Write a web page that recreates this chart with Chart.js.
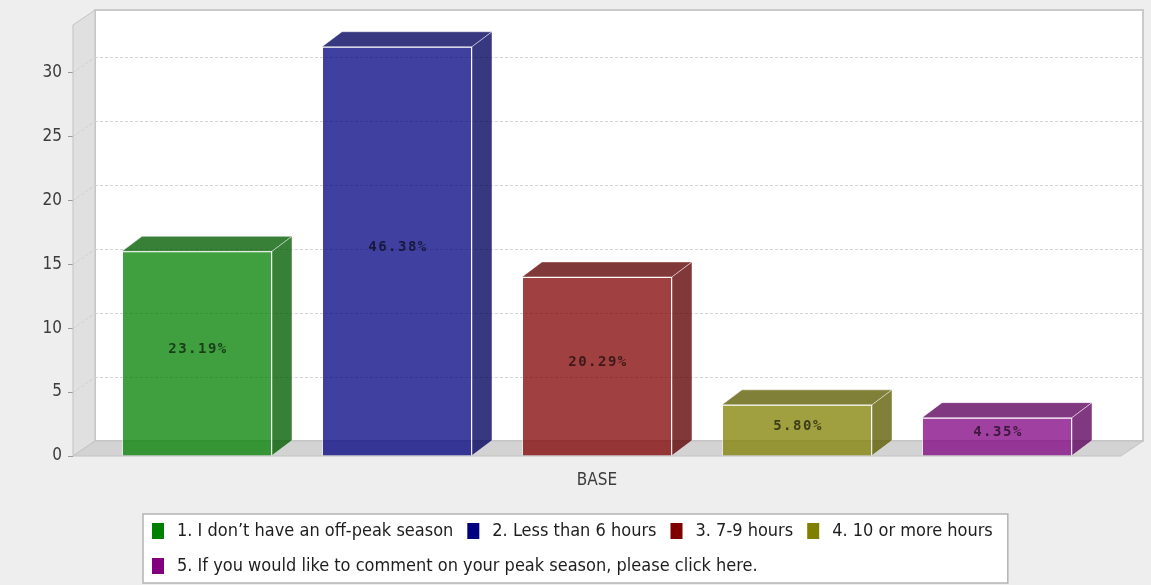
<!DOCTYPE html>
<html>
<head>
<meta charset="utf-8">
<title>Off-peak season hours</title>
<script src="https://cdn.jsdelivr.net/npm/chart.js@4.4.1/dist/chart.umd.min.js"></script>
<style>
  html, body { margin: 0; padding: 0; background: #eeeeee; }
  #wrap { width: 1151px; height: 585px; }
  canvas { display: block; }
</style>
</head>
<body>
<div id="wrap"><canvas id="chart" width="1151" height="585"></canvas></div>
<script>
// ---- data ----
const categories = ['BASE'];
const seriesLabels = [
  '1. I don\u2019t have an off-peak season',
  '2. Less than 6 hours',
  '3. 7-9 hours',
  '4. 10 or more hours',
  '5. If you would like to comment on your peak season, please click here.'
];
const seriesCounts = [16, 32, 14, 4, 3];
const seriesColors = ['#008000', '#000080', '#800000', '#808000', '#800080'];
const yTickValues = [0, 5, 10, 15, 20, 25, 30];
const yAxisMax = 33.7;

// ---- helpers ----
const total = seriesCounts.reduce((a, b) => a + b, 0);
function shade(hex, alpha, k) {
  const n = parseInt(hex.slice(1), 16);
  const r = Math.round(((n >> 16) & 255) * k);
  const g = Math.round(((n >> 8) & 255) * k);
  const b = Math.round((n & 255) * k);
  return `rgba(${r},${g},${b},${alpha})`;
}
const SANS = '"DejaVu Sans Condensed", "DejaVu Sans", sans-serif';
const WALL_DX = 22, WALL_DY = 15;   // depth of the walls/floor
const BAR_DX = 20, BAR_DY = 15;     // depth of each bar
const EDGE = 'rgba(255,255,255,0.45)';

// walls, floor and grid drawn behind the bars
const depthPlugin = {
  id: 'depthBox',
  beforeDatasetsDraw(chart) {
    const { ctx, chartArea: a, scales: { y } } = chart;
    const L = a.left, R = a.right, T = a.top, B = a.bottom;
    ctx.save();
    // back wall
    ctx.fillStyle = '#ffffff';
    ctx.fillRect(L + WALL_DX, T - WALL_DY, R - L, B - T);
    ctx.strokeStyle = '#cacaca';
    ctx.lineWidth = 2;
    ctx.strokeRect(L + WALL_DX, T - WALL_DY, R - L, B - T);
    // left side wall
    ctx.beginPath();
    ctx.moveTo(L, T); ctx.lineTo(L + WALL_DX, T - WALL_DY);
    ctx.lineTo(L + WALL_DX, B - WALL_DY); ctx.lineTo(L, B);
    ctx.closePath();
    ctx.fillStyle = '#e0e0e0';
    ctx.fill();
    ctx.strokeStyle = '#c2c2c2';
    ctx.lineWidth = 1;
    ctx.stroke();
    // floor
    ctx.beginPath();
    ctx.moveTo(L, B); ctx.lineTo(L + WALL_DX, B - WALL_DY);
    ctx.lineTo(R + WALL_DX, B - WALL_DY); ctx.lineTo(R, B);
    ctx.closePath();
    ctx.fillStyle = '#d3d3d3';
    ctx.fill();
    ctx.strokeStyle = '#c2c2c2';
    ctx.stroke();
    // dashed grid on the back wall, with its trace across the side wall
    ctx.setLineDash([3, 2]);
    ctx.lineWidth = 1;
    y.ticks.forEach(t => {
      if (t.value === 0) return;
      const py = Math.round(y.getPixelForValue(t.value)) + 0.5;
      ctx.strokeStyle = '#d2d2d2';
      ctx.beginPath();
      ctx.moveTo(L + WALL_DX, py - WALL_DY);
      ctx.lineTo(R + WALL_DX, py - WALL_DY);
      ctx.stroke();
      ctx.strokeStyle = '#d0d0d0';
      ctx.beginPath();
      ctx.moveTo(L, py);
      ctx.lineTo(L + WALL_DX, py - WALL_DY);
      ctx.stroke();
    });
    ctx.restore();
  },
  afterDatasetsDraw(chart) {
    const { ctx } = chart;
    ctx.save();
    chart.data.datasets.forEach((ds, i) => {
      const meta = chart.getDatasetMeta(i);
      meta.data.forEach((bar, j) => {
        const p = bar.getProps(['x', 'y', 'base', 'width'], true);
        const x1 = p.x - p.width / 2, x2 = p.x + p.width / 2;
        const top = p.y, base = p.base;
        const dark = shade(seriesColors[i], 0.78, 0.72);
        // top face
        ctx.beginPath();
        ctx.moveTo(x1, top); ctx.lineTo(x1 + BAR_DX, top - BAR_DY);
        ctx.lineTo(x2 + BAR_DX, top - BAR_DY); ctx.lineTo(x2, top);
        ctx.closePath();
        ctx.fillStyle = dark;
        ctx.fill();
        ctx.strokeStyle = EDGE;
        ctx.lineWidth = 1;
        ctx.stroke();
        // side face
        ctx.beginPath();
        ctx.moveTo(x2, top); ctx.lineTo(x2 + BAR_DX, top - BAR_DY);
        ctx.lineTo(x2 + BAR_DX, base - BAR_DY); ctx.lineTo(x2, base);
        ctx.closePath();
        ctx.fillStyle = dark;
        ctx.fill();
        ctx.stroke();
        // percentage label on the front face
        const v = ds.data[j];
        const label = (v / total * 100).toFixed(2) + '%';
        ctx.font = 'bold 14px "DejaVu Sans Mono", "Liberation Mono", monospace';
        ctx.letterSpacing = '1.5px';
        ctx.textAlign = 'center';
        ctx.textBaseline = 'middle';
        ctx.fillStyle = 'rgba(0,0,0,0.62)';
        ctx.fillText(label, p.x + 1, (top + base) / 2 - 4);
      });
    });
    ctx.restore();
  },
  afterDraw(chart) {
    // boxed legend below the axis
    const { ctx } = chart;
    const boxL = 143, boxT = 514, startX = 152, rowY = [531, 566], wrapAt = 1060;
    ctx.save();
    ctx.font = '18px ' + SANS;
    ctx.letterSpacing = '0px';
    const items = [];
    let x = startX, row = 0, maxEnd = 0;
    chart.data.datasets.forEach((ds, i) => {
      const w = ctx.measureText(ds.label).width;
      if (x + 25 + w > wrapAt && x > startX) { row++; x = startX; }
      items.push({ x, row, label: ds.label, color: seriesColors[i] });
      maxEnd = Math.max(maxEnd, x + 25 + w);
      x += 25 + w + 14;
    });
    const boxR = maxEnd + 15, boxB = 583;
    ctx.fillStyle = '#ffffff';
    ctx.fillRect(boxL, boxT, boxR - boxL, boxB - boxT);
    ctx.strokeStyle = '#b4b4b4';
    ctx.lineWidth = 1.5;
    ctx.strokeRect(boxL, boxT, boxR - boxL, boxB - boxT);
    items.forEach(it => {
      const cy = rowY[it.row];
      ctx.fillStyle = it.color;
      ctx.fillRect(it.x, cy - 8, 12, 16);
      ctx.fillStyle = '#1e1e1e';
      ctx.textAlign = 'left';
      ctx.textBaseline = 'middle';
      ctx.fillText(it.label, it.x + 25, cy);
    });
    ctx.restore();
  }
};

const datasets = seriesLabels.map((label, i) => ({
  label,
  data: [seriesCounts[i]],
  backgroundColor: shade(seriesColors[i], 0.75, 1),
  borderColor: EDGE,
  borderWidth: 1
}));

new Chart(document.getElementById('chart'), {
  type: 'bar',
  data: { labels: categories, datasets },
  options: {
    responsive: false,
    animation: false,
    devicePixelRatio: 1,
    layout: { padding: { top: 25, right: 30, left: 0, bottom: 0 } },
    datasets: { bar: { categoryPercentage: 0.9542, barPercentage: 0.75 } },
    plugins: { legend: { display: false }, tooltip: { enabled: false } },
    scales: {
      x: {
        grid: { display: false },
        border: { display: false },
        ticks: { color: '#3c3c3c', font: { family: SANS, size: 17 }, padding: 6 },
        afterFit(s) { s.height = 129; }
      },
      y: {
        min: 0,
        max: yAxisMax,
        afterBuildTicks(s) { s.ticks = yTickValues.map(v => ({ value: v })); },
        grid: { drawOnChartArea: false, drawTicks: true, tickLength: 5, color: '#9a9a9a' },
        border: { display: false },
        ticks: { color: '#3c3c3c', font: { family: SANS, size: 17 }, padding: 6 },
        afterFit(s) { s.width = 73; }
      }
    }
  },
  plugins: [depthPlugin]
});
</script>
</body>
</html>
